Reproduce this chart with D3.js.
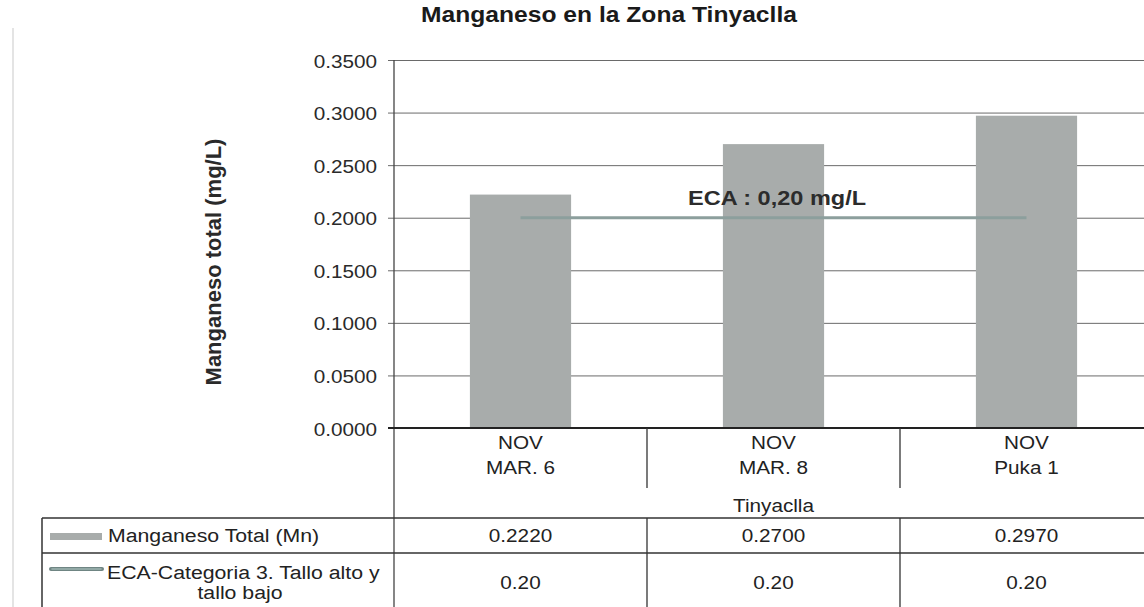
<!DOCTYPE html>
<html>
<head>
<meta charset="utf-8">
<script src="https://cdn.jsdelivr.net/npm/d3@7"></script>
<style>
  html, body { margin: 0; padding: 0; background: #fff; }
  svg { display: block; }
  text { font-family: "Liberation Sans", Arial, sans-serif; fill: #222; }
</style>
</head>
<body>
<div id="chart"></div>
<script>
// ---- data ----
const title = "Manganeso en la Zona Tinyaclla";
const yTitle = "Manganeso total (mg/L)";
const periods = ["NOV", "NOV", "NOV"];
const stations = ["MAR. 6", "MAR. 8", "Puka 1"];
const groupLabel = "Tinyaclla";
const manganeso = [0.2220, 0.2700, 0.2970];
const eca = [0.20, 0.20, 0.20];
const yTicks = [0, 0.05, 0.10, 0.15, 0.20, 0.25, 0.30, 0.35];
const seriesNames = ["Manganeso Total (Mn)", "ECA-Categoria 3. Tallo alto y", "tallo bajo"];
const ecaLabel = "ECA : 0,20 mg/L";

// ---- layout ----
const W = 1144, H = 607;
const SX = 1.12; // horizontal stretch of the scanned text
const plotLeft = 394, plotTop = 60, plotBottom = 428;
const bandW = 253;

const svg = d3.select("#chart").append("svg").attr("width", W).attr("height", H);

const x = d3.scaleBand().domain(stations).range([plotLeft, plotLeft + bandW * stations.length]).paddingInner(0.6).paddingOuter(0.3);
const y = d3.scaleLinear().domain([0, 0.35]).range([plotBottom, plotTop]);

function txt(px, py, s, o = {}) {
  return svg.append("text")
    .attr("transform", `translate(${px},${py}) scale(${o.sx || SX},1)`)
    .attr("text-anchor", o.anchor || "middle")
    .style("font-size", (o.size || 18.5) + "px")
    .style("font-weight", o.bold ? "bold" : "normal")
    .style("fill", o.fill || "#222")
    .text(s);
}

// page edge of the scan
svg.append("line").attr("x1", 13).attr("x2", 13).attr("y1", 28).attr("y2", H)
  .attr("stroke", "#e4e4e4").attr("stroke-width", 2);

// title
txt(609, 22, title, { size: 22, bold: true, fill: "#1a1a1a" });

// gridlines + ticks
const yAxis = d3.axisLeft(y).tickValues(yTicks).tickFormat(d3.format(".4f"))
  .tickSize(-(W - plotLeft)).tickPadding(12);
const gy = svg.append("g").attr("transform", `translate(${plotLeft},0)`).call(yAxis);
gy.select(".domain").remove();
gy.selectAll(".tick line").attr("stroke", "#6a6a6a").attr("stroke-width", 1).attr("x1", -6);
gy.selectAll(".tick text")
  .style("font-size", "18.5px")
  .style("fill", "#2a2a2a")
  .attr("x", null)
  .attr("dy", null)
  .attr("transform", `translate(-17,7) scale(${SX},1)`)
  .attr("text-anchor", "end");

// left axis line
svg.append("line").attr("x1", plotLeft).attr("x2", plotLeft).attr("y1", plotTop).attr("y2", H)
  .attr("stroke", "#444").attr("stroke-width", 1.3);

// bars
svg.append("g").selectAll("rect").data(manganeso).join("rect")
  .attr("x", (d, i) => x(stations[i]))
  .attr("width", x.bandwidth())
  .attr("y", d => y(d))
  .attr("height", d => y(0) - y(d))
  .attr("fill", "#a8acab");

// ECA line
const line = d3.line().x((d, i) => x(stations[i]) + x.bandwidth() / 2).y(d => y(d));
svg.append("path").datum(eca).attr("d", line)
  .attr("fill", "none").attr("stroke", "#8c9f9d").attr("stroke-width", 3);

txt(777, 205, ecaLabel, { size: 21, bold: true, fill: "#2c2c2c" });

// y title
svg.append("text")
  .attr("transform", `translate(221,262) rotate(-90)`)
  .attr("text-anchor", "middle")
  .style("font-size", "22px").style("font-weight", "bold").style("fill", "#2a2a2a")
  .text(yTitle);

// x axis line
svg.append("line").attr("x1", plotLeft - 6).attr("x2", W).attr("y1", plotBottom).attr("y2", plotBottom)
  .attr("stroke", "#222").attr("stroke-width", 2);

// ---- data table ----
const tableLeft = 42, rowA = 518, rowB = 553;
const hl = (yy, x1) => svg.append("line").attr("x1", x1).attr("x2", W).attr("y1", yy).attr("y2", yy)
  .attr("stroke", "#333").attr("stroke-width", 1.5);
hl(rowA, tableLeft); hl(rowB, tableLeft);
svg.append("line").attr("x1", tableLeft).attr("x2", tableLeft).attr("y1", rowA).attr("y2", H)
  .attr("stroke", "#333").attr("stroke-width", 1.5);

// category separators
stations.forEach((s, i) => {
  if (i === 0) return;
  const sx = plotLeft + bandW * i;
  svg.append("line").attr("x1", sx).attr("x2", sx).attr("y1", plotBottom).attr("y2", 488)
    .attr("stroke", "#333").attr("stroke-width", 1.3);
  svg.append("line").attr("x1", sx).attr("x2", sx).attr("y1", rowA).attr("y2", H)
    .attr("stroke", "#333").attr("stroke-width", 1.3);
});

stations.forEach((s, i) => {
  const cx = x(s) + x.bandwidth() / 2;
  txt(cx, 449, periods[i]);
  txt(cx, 474, s);
  txt(cx, 542, d3.format(".4f")(manganeso[i]));
  txt(cx, 589, d3.format(".2f")(eca[i]));
});
txt(plotLeft + bandW * 1.5, 512, groupLabel);

// legend keys in table
svg.append("rect").attr("x", 50).attr("y", 533).attr("width", 52).attr("height", 7).attr("fill", "#a8acab");
txt(108, 542, seriesNames[0], { anchor: "start", size: 19 });
svg.append("line").attr("x1", 51).attr("x2", 102).attr("y1", 569).attr("y2", 569)
  .attr("stroke", "#6f8583").attr("stroke-width", 4).attr("stroke-linecap", "round");
svg.append("line").attr("x1", 52).attr("x2", 101).attr("y1", 569).attr("y2", 569)
  .attr("stroke", "#9fb5b2").attr("stroke-width", 1.6).attr("stroke-linecap", "round");
txt(107, 579, seriesNames[1], { anchor: "start", size: 19 });
txt(240, 599, seriesNames[2], { size: 19 });
</script>
</body>
</html>
